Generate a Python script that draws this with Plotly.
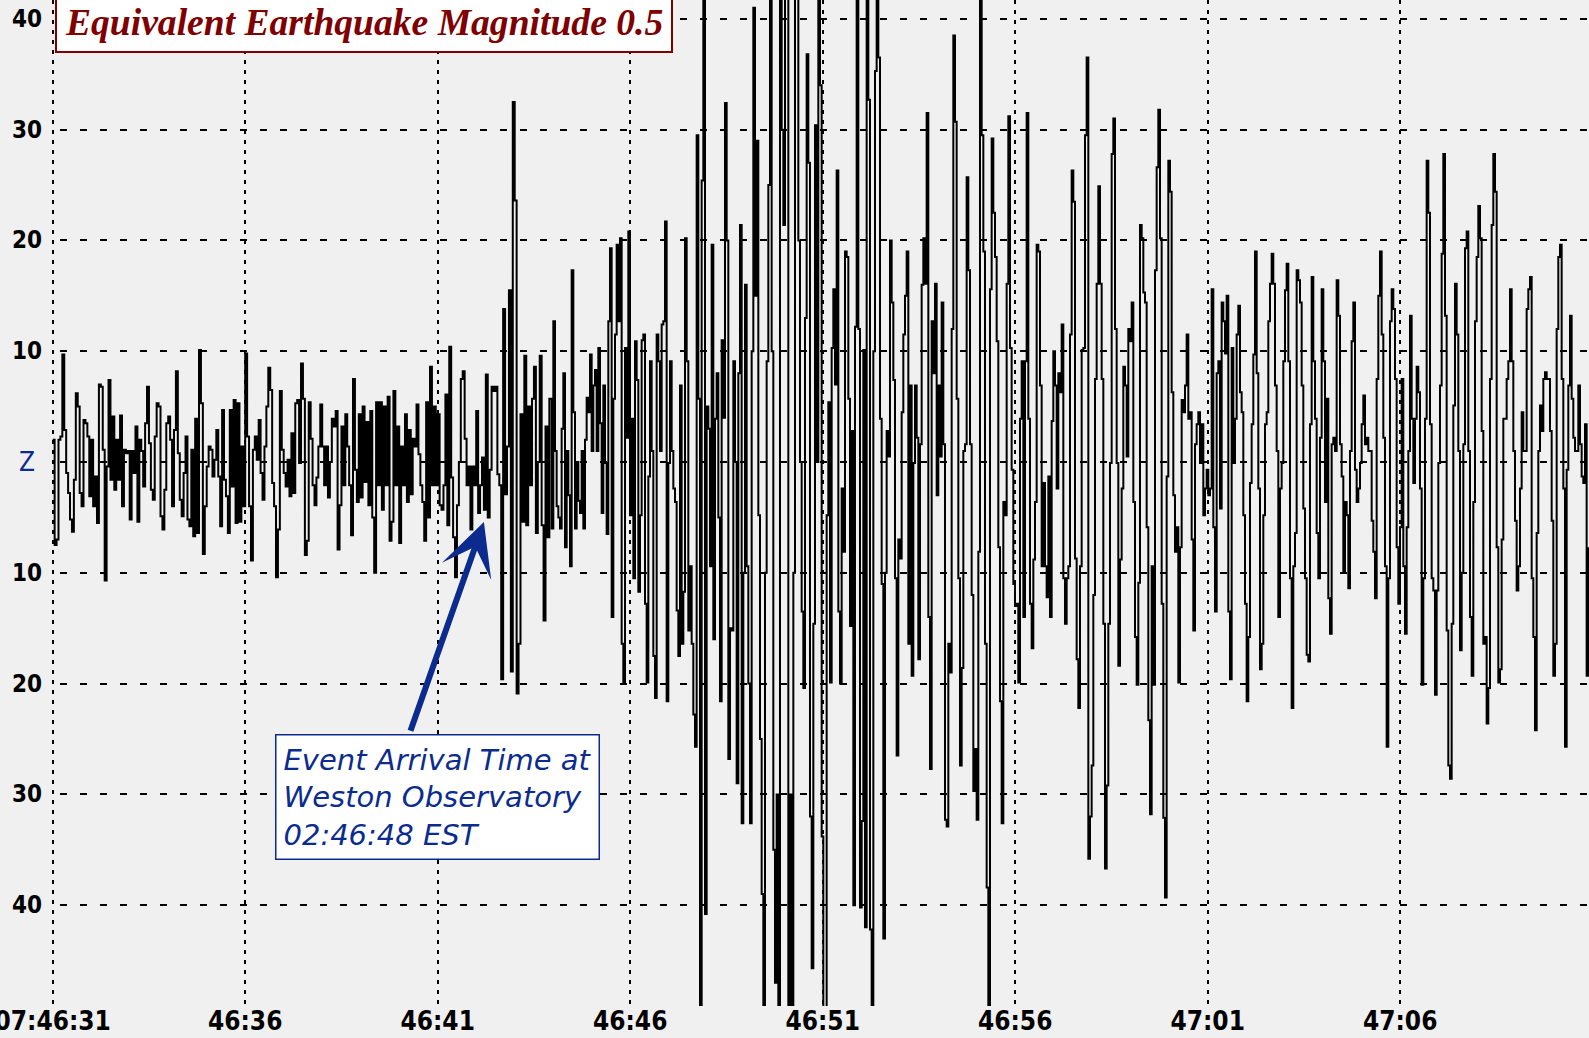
import plotly.graph_objects as go

# ---------------- data (amplitude in counts, read from the record) ----------------
# pre-event noise and onset, sampled every 0.05 s from 07:46:31.00
PRE_DT = 0.05
pre_event = [
    2, -7.5, -7, 2, 2.3, 9.7, 2.9, -1, -2.8, -5.2, -6.3, -1.6, 6.2, 5, -2.8, -4, 3.8, 3.5, 2.3, -3.1,
    2, -4, -1.3, -5.5, 7, 6.8, 1.1, -10.7, -0.4, 7.4, -1.6, 4.1, -2.5, 2, -1.6, 4.2, -4, 1.1, 0.8, 1,
    -5.2, 1, -1, 3.2, -5.4, 2, 1, -2.2, 3.5, 6.8, 1.7, -2.5, -3.4, 2.3, 5.3, 5, -4.9, -6.1, -2.5, 3.5,
    4.1, 2, -4, 2.9, 8.2, 0.8, -3.4, -4.9, -1, 2.3, -5.2, -5.8, 1.1, -6.7, 3.9, -6.4, 10.1, 5.3, -8.3, -4,
    -0.4, 1.4, 1.1, -1.3, 0.2, 2.9, -1.3, -5.8, 4.7, -1.6, -3.1, -6.4, 4.7, -2.2, 5.6, -5.5, 5.3, -5.4, 1.4, -4,
    9.8, 2.3, -4, -8.9, 1.1, 2.3, 0.2, 3.8, -1, -3.4, 1.4, 5, 8.5, 6.5, -1.9, -4, -10.4, -6.1, 6.4, 1.1,
    -1, -2.2, 0.2, -3.1, 2.6, -2.8, 5.3, 5.6, -0.1,
    8.9, 5.7, -8.4, -7.1, 5.4, 2.1, -2.1, -3.9, -1.4, 1.4, 5.2,
    1.4, -2.1, 1.4, -3.2, 0, 3.9, 3.2, 4.6, -7.9, -3.9, 3.2, -2.1, 4.3, 1.4, -2.1, -6.6, 7.5, -0.7, -3.6, 4.3,
    -3.2, 5, -1.8, 3.6, -3.9, 4.6, -5, -10, 5.4, -2.1, 5.4, -4.3, 5, -2.1, 5.9, -7.1, -5.4, 6.4, -2.1, 3.2,
    -7.3, 1.4, -2.1, 4.3, -3.6, 2.9, -2.9, 2.1, 1.4, 5.2, 0.7, -2.1, -3.6, -7.1, 5.4, -5, 8.6, -2.1, 5, -2.1,
    4.3, -3.9, -4.3, -2.1, 6.1, -5.7, 10.4, -1.4, -6.8, -10.4, -3.9, 0, 7.5, 8.2, 2.1, -2.1, -0.4, -6.1, -0.4, -2.1,
    4.6, -4.6, -2.1, 0.4, -4.3, 7.9, -5, -0.7, 6.8, 6.4, 6.8, -1.1, -2.1, -19.6, 13.8, -2.9, 1.4, 15.5, -18.9, 32.5,
    23.6, -20.9, -16.4, 4.3, -5.4, 9.6, -5.7, 5, -2.1, 5.7, 8.6, -6.4, 0, 9.6, -5.7, -14.3, 3.2, -6.8, 5.7,
]

# main event, sampled every MAIN_DT s starting MAIN_T0 s after 07:46:31
MAIN_T0 = 12.960
MAIN_DT = 0.04329
main_1 = [
    -6, 12.7, 1, -4, -5, -6, 3, 8, -7.7, 1,
    -3, -9.4, 17.3, 4.5, -6, 0, -3.5, -4.6, 1, -6,
    2, 5.8, 4.5, 9.7, 1, 6.9, 8.3, 1, 10.3, 3.5,
    -4.6, 6.9, -0.1, -6.5, 12.7, 19.3, -14, 5.7, 11.5, 19.6,
    12.7, 20.2, -16.4, -20, 10.3, 2.2, 20.8, -4.8, 3.9, -10.5,
    10.9, 7.4, -11.7, -4.8, 11, 11.5, -12.8, -19.9, -1.3, 9.1,
    1, -17.5, -21.3, 11.5, 9.1, 1, 12.4, 12.7, 21.7, -21.6,
    -0.1, 9.1, 1, -2.4, -3.6, -13.4, -17.5, 6.9, -16.4, -11.7,
    20.2, 9.1, -15.2, -9.4, -16.4, -22.8, -25.7, 29.5, 5.7, -52,
    25.4, 45, -40.8, 5, 3, -9.4, 19.6, -16, 3.9, 8,
    -5, -21.6, 11, 4, 32.4, 20, -26.8, -15, -15.2, 9.1,
    0, -29, 8, 21.4, -32.6, -10, 16, -9.4, -20, -32.6,
    10, 41, 15, 29, -4.8, -25, -39, -52, -10, 9.1,
    25, 45, 10, -35, -47, -30, -52, 45, 30, 21.4,
    45, 45, -52, -30, -52, -10,
]
main_2 = [
    45, 45, 20, 0, -13.5, -20.4, 13, 36.8, 27, -32,
    -45.7, -14.6, 30.4, 0, 45, 34, -33.8, -52, -52, -4.8,
    5.4, -19.9, 10.3, 15.6, 7, 26.3, -13.5, -20, -2.4, -8.1,
    19, 18.5, 5.7, -14.8, 2.8, -40, 12.2, 45, 12, -40.2,
    -32.4, 10.1, -42, 45, 32.7, -42.2, -52, 10, 35.3, 45,
    36.5, 3.9, -11, -43, -10, 2.8, 0.5, 20, 14.4, 7.4,
    -10.5, -26.5, -7, -8.7, 4.5, 11.5, 15, 19, -16.4, 6.9,
    -19.3, -0.1, 6.9, 2.2, -17.8, 1.6, 16, 20.2, 16.1, 31.5,
    -14, -27.7, 12.7, 8, 16.1, -3, 6.9, 0.5, 14.4, 1.6,
    -32.3, -32.9, -16.4, -19, 12, 38.5, 30.7, 5.7, -10.5, -27.4,
    -18.6, 1, 1.6, 25.7, 17.3, 1.6, -12, -29.7, -25.9, -32.3,
    -8.1, 45, 29.5, 19, -16.4, -38.4, -52, 15.6, 29.2, 22.5,
    18.5, 10.9, -7.7, -21.6, -32.6, -3.6, -4.8, 16.1, 31.2, 10.3,
    -0.7, -11, -13, -12.8, -19.9, 3.9, 9.1, -14, 9.1, 31.5,
    3.9, -12.8, -16.8, -8.8, -3.6, 19.6, 19, 6.9, -9.4, -1.9,
    -9.4, -12.2, -1.3,
]
main_3 = [
    -14, 3.7, 10, 6.9, -2.4, 8, 6.3, 12.4, -10.5, -14.6,
    -10.5, -9.4, 11.5, 26.3, 23.5, -8.7, -17.8, -22.2, -9.4, 10.1,
    10.3, 29.5, 36.5, -35.8, -32, -27.4, -12, 7.5, 16.1, 24.9,
    16.1, 7.5, -14.6, -36.7, -29.2, -14.6, -0.1, 27.8, 31, 12,
    -0.1, -18.4, -8.8, -2.4, 8.6, 6.9, 0.5, 12, 10.9, 14.4,
    -3.6, -15.8, -20.1, -10.9, 21.4, 20.2, 15.3, 14.4, -5.9, -23.3,
    -31.8, -9.4, -20.1, 17.3, 26.6, 31.8, 20.2, -12.8, -32.1, -39.3,
    -1.3, 27.2, 24.4, 6.3, -3, -8.1, -5.9, -19.9, -7.7, 5.6,
    4.5, 6.9, 11.5, 3.9, 4.5, -7, -15.2, 1.6, 3.4, 4.5,
    -0.1, 3.4, -4.8, -2.4, -0.7, -3, -2.4, 15.6, -5.9, -13.5,
    8, 9.1, -4.2, 14.4, 12.7, 9.8, 15, -13.5, -19.6, 10.3,
    -0.1, 3.9, 11.5, 14.1, 6.3, 4.5, -4.8, -12.8, -21.6, -15.8,
    -1.9, 3.4, 9.7, 19, 8, -2.4, -18.7, -16.4, -4.8, 3.4,
    4.5, 12.7, 16.1, 18.8, 16.1, 6.9, 1, -14, -2.4, -0.1,
    9.1, 15.5, 17.9, 9.1, -10.5, -22.2, -9.4, -6.4, 17.3, 16.4,
    14.4, 6.9, -4.2, -10.5, -17.4, -18, 3.4, 16.7, 9.1, 3.9,
    -6.4, -10.5,
]
main_4 = [
    2.2, 15.6, 9.1, -3.6, 5.7, -12.3, -15.5, 1.6, 2.2, 1,
    16.4, 13.2, 1.6, -1.3, -10, -3.6, -4.8, -11.4, 1, 10.9,
    14.4, -0.7, -3.6, -2.4, -0.1, 3.4, 6, 1.6, 2.2, 1,
    1, -5.3, -8.1, -12.3, 7.5, 15, 19, 11.5, 2.2, -9.4,
    -25.7, -10.5, 12.7, 15.6, 13.8, 7.5, -7.7, -12.8, -5.9, 7.5,
    -9.4, -15.5, -5.9, 1, 13.2, 3.9, -1.9, 3.9, 8.6, 6.3,
    -2.4, -20.1, -10.5, 3.9, 27.2, 22.5, 3.4, -10.5, -11.6, -21,
    -11.6, -0.1, 6.9, 18.8, 27.8, 13.2, -15.2, -27.4, -28.6, -14.6,
    5.1, 16.1, 11.5, 1, -17, -10, 1.6, 19.3, 20.8, 1,
    -14, -19.3, -3.6, 12.7, 18.5, 23.1, 20.2, 2.8, -16.4, -15.8,
    -23.6, -20.4, 7.5, 21.4, 27.8, 24.4, -7.7, -19.9, -18.7, -7,
    3.9, 3.9, 7.5, 9.1, 15.6, 9.1, 1, -5.3, -11.6, -9.4,
    -2.4, 4.5, 1, 1, 13.8, 15.6, 16.7, -10.5, -15.8, -24.2,
    -6.4, 1, 5.1, 2.8, 7.5, 8.1, 7.5, 7.5, 2.8, -5.3,
    -19.3, -16.4, 12, 18.5, 19.6, 7.5, -2.4, -25.7, -0.7, 6.9,
    13.2, 5.7, 2.2, 1, 1, 6.9, 1.6, -1.3, -1.9, 3.4,
    -19.3, -7.7,
]

x_tick_vals = [0, 5, 10, 15, 20, 25, 30, 35]
x_tick_labels = ["07:46:31", "46:36", "46:41", "46:46", "46:51", "46:56", "47:01", "47:06"]
y_tick_vals = [40, 30, 20, 10, 0, -10, -20, -30, -40]
y_tick_labels = ["40", "30", "20", "10", "Z", "10", "20", "30", "40"]

title_text = "Equivalent Earthquake Magnitude 0.5"
event_text = ["Event Arrival Time at", "Weston Observatory", "02:46:48 EST"]
arrow_tip = (11.20, -5.42)
arrow_tail = (9.28, -24.4)

# ---------------- figure ----------------
t_pre = [i * PRE_DT for i in range(len(pre_event))]
main = main_1 + main_2 + main_3 + main_4
t_main = [MAIN_T0 + k * MAIN_DT for k in range(len(main))]

W, H = 1589, 1038
PLOT_H = 1006
BG = "#F0F0F0"
NAVY = "#0B2C8E"
MAROON = "#800000"
NARROW = "Liberation Sans Narrow, Arial Narrow, DejaVu Sans Condensed, sans-serif"

fig = go.Figure()
fig.add_trace(go.Scatter(
    x=t_pre + t_main, y=pre_event + main, mode="lines",
    line=dict(color="black", width=2, shape="hv"),
    hoverinfo="skip", showlegend=False,
))

# keep the label strip left of the first time line free of grid dashes
fig.add_shape(type="rect", xref="paper", yref="paper", x0=0, x1=50 / W, y0=0, y1=1,
              fillcolor=BG, line=dict(width=0), layer="above")

annotations = []
for v, lab in zip(y_tick_vals, y_tick_labels):
    is_z = lab == "Z"
    annotations.append(dict(
        x=27 / W, xref="paper", y=v, yref="y", text=lab, showarrow=False,
        xanchor="center", yanchor="middle",
        font=dict(family=NARROW, size=26 if is_z else 24, color=NAVY if is_z else "black",
                  weight="normal" if is_z else "bold"),
    ))

annotations.append(dict(
    x=55 / W, xref="paper", y=1 - 53 / PLOT_H, yref="paper",
    xanchor="left", yanchor="bottom", showarrow=False,
    text="<b><i>" + title_text + "</i></b>",
    font=dict(family="Liberation Serif, Times New Roman, serif", size=37.6, color=MAROON),
    bgcolor="white", bordercolor=MAROON, borderwidth=2, borderpad=8,
))

annotations.append(dict(
    x=arrow_tip[0], y=arrow_tip[1], xref="x", yref="y",
    ax=arrow_tail[0], ay=arrow_tail[1], axref="x", ayref="y",
    text="", showarrow=True, arrowhead=3, arrowsize=1.45, arrowwidth=6,
    arrowcolor=NAVY,
))

annotations.append(dict(
    x=275 / W, xref="paper", y=1 - 734 / PLOT_H, yref="paper",
    xanchor="left", yanchor="top", showarrow=False, align="left",
    text="<br>".join("<i>" + s + "</i>" for s in event_text),
    font=dict(family="DejaVu Sans, Verdana, sans-serif", size=29, color=NAVY),
    bgcolor="white", bordercolor=NAVY, borderwidth=1.5, borderpad=7,
))

fig.update_layout(
    width=W, height=H,
    margin=dict(l=0, r=0, t=0, b=H - PLOT_H, pad=0, autoexpand=False),
    paper_bgcolor=BG, plot_bgcolor=BG,
    showlegend=False,
    annotations=annotations,
    xaxis=dict(
        range=[-1.369, 39.904], tickmode="array", tickvals=x_tick_vals, ticktext=x_tick_labels,
        showgrid=True, gridcolor="black", gridwidth=2, griddash="4px,6px",
        zeroline=False, showline=False, ticks="", automargin=False,
        ticklabeloverflow="allow", ticklabelstandoff=-3,
        tickfont=dict(family=NARROW, size=26, color="black", weight="bold"),
    ),
    yaxis=dict(
        range=[-49.1, 41.7], tickmode="array", tickvals=y_tick_vals,
        showgrid=True, gridcolor="black", gridwidth=1.6, griddash="7px,13px",
        zeroline=False, showline=False, ticks="", showticklabels=False, automargin=False,
    ),
)

fig.write_html("out.html", config={"displayModeBar": False},
               post_script="document.body.style.margin='0';document.body.style.overflow='hidden';")
